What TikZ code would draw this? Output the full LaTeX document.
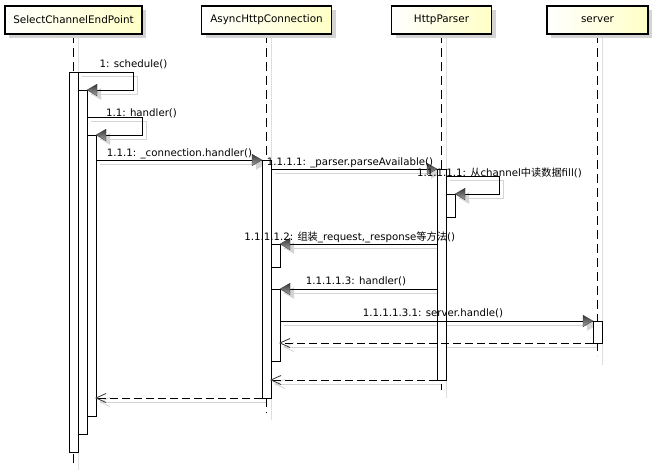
\documentclass[tikz,border=0pt]{standalone}
\usepackage{fontspec}
\setmainfont{DejaVu Sans}
\newfontfamily\cjk{Noto Sans CJK SC}
\usetikzlibrary{shadows}
\pgfdeclarelayer{bg}
\pgfsetlayers{bg,main}
\definecolor{shadowc}{RGB}{212,212,212}
\definecolor{lifesh}{RGB}{222,222,222}
\definecolor{headyel}{RGB}{255,255,198}
\definecolor{tipdark}{RGB}{55,55,55}
\definecolor{tiplight}{RGB}{165,165,165}
\begin{document}
\begin{tikzpicture}[x=1pt,y=-1pt,
  head/.style={draw=black,line width=1.5pt,left color=white,right color=headyel,
    minimum height=28pt,inner sep=0pt,outer sep=0pt,font=\fontsize{10.4}{12}\selectfont,
    drop shadow={shadow xshift=4pt,shadow yshift=-4pt,fill=shadowc,opacity=1}},
  actbar/.style={draw=black,fill=white,line width=0.8pt,minimum width=9pt,inner sep=0pt,outer sep=0pt,anchor=north},
  lifeline/.style={draw=black,line width=0.8pt,dash pattern=on 9pt off 5pt},
  lifeshadow/.style={draw=lifesh,line width=0.8pt},
  msg/.style={draw=black,line width=0.8pt},
  msgshadow/.style={draw=shadowc,line width=0.8pt},
  ret/.style={draw=black,line width=0.8pt,dash pattern=on 8pt off 4pt},
  lbl/.style={inner sep=0pt,text height=7.5pt,text depth=2pt,font=\fontsize{10.2}{12}\selectfont},
  tipL/.pic={\shade[top color=tipdark,bottom color=tiplight,draw=tipdark,line width=0.3pt] (0,0) -- (10,-5.8) -- (10,5.8) -- cycle;},
  tipR/.pic={\shade[top color=tipdark,bottom color=tiplight,draw=tipdark,line width=0.3pt] (0,0) -- (-10,-5.8) -- (-10,5.8) -- cycle;},
  tipLsh/.pic={\fill[shadowc] (4,4) -- (14,-1.8) -- (14,9.8) -- cycle;},
  tipRsh/.pic={\fill[shadowc] (4,4) -- (-6,-1.8) -- (-6,9.8) -- cycle;},
  openL/.pic={\draw[draw=tipdark,line width=0.8pt] (10,-4.5) -- (0,0) -- (10,4.5);},
  openLsh/.pic={\draw[draw=shadowc,line width=0.8pt] (14,-0.5) -- (4,4) -- (14,8.5);}
]
\useasboundingbox (0,0) rectangle (670,470);

% headers
\node[head,minimum width=137pt] (hS) at (73.5,20) {SelectChannelEndPoint};
\node[head,minimum width=130pt] (hA) at (266.5,20) {AsyncHttpConnection};
\node[head,minimum width=100pt] (hH) at (441.5,20) {HttpParser};
\node[head,minimum width=101pt] (hV) at (597.5,20) {server};

% activation bars
\node[actbar,minimum height=380pt] (s1) at (73.5,72) {};
\node[actbar,minimum height=344pt] (s2) at (82.5,90) {};
\node[actbar,minimum height=281pt] (s3) at (91.5,135) {};
\node[actbar,minimum height=238pt] (a1) at (266.5,160) {};
\node[actbar,minimum height=23pt] (a2) at (275.5,244) {};
\node[actbar,minimum height=72pt] (a3) at (275.5,289) {};
\node[actbar,minimum height=211pt] (p1) at (441.5,169) {};
\node[actbar,minimum height=23pt] (p2) at (450.5,194) {};
\node[actbar,minimum height=22pt] (v1) at (597.5,321) {};

% lifeline ends
\coordinate (eS) at (hS.south |- 0,466);
\coordinate (eA) at (hA.south |- 0,413);
\coordinate (eH) at (hH.south |- 0,390);
\coordinate (eV) at (hV.south |- 0,356);

% message end points
\coordinate (m1a) at (s1.north east);
\coordinate (m1e) at (s2.north east);
\coordinate (m2a) at (s2.east |- 0,117);
\coordinate (m2e) at (s3.north east);
\coordinate (m3a) at (s3.east |- 0,160);
\coordinate (m3e) at (a1.north west);
\coordinate (m4a) at (a1.east |- 0,169);
\coordinate (m4e) at (p1.north west);
\coordinate (m5a) at (p1.east |- 0,176);
\coordinate (m5e) at (p2.north east);
\coordinate (m6a) at (p1.west |- 0,244);
\coordinate (m6e) at (a2.north east);
\coordinate (m7a) at (p1.west |- 0,289);
\coordinate (m7e) at (a3.north east);
\coordinate (m8a) at (a3.east |- 0,321);
\coordinate (m8e) at (v1.north west);
\coordinate (r9a) at (v1.south west);
\coordinate (r9e) at (a3.east |- v1.south);
\coordinate (r10a) at (p1.south west);
\coordinate (r10e) at (a1.east |- p1.south);
\coordinate (r11a) at (a1.south west);
\coordinate (r11e) at (s3.east |- a1.south);

\begin{pgfonlayer}{bg}
  \fill[white] (-2,-2) rectangle (672,472);
  % lifeline shadows
  \draw[lifeshadow] ([shift={(5,0)}]hS.south) -- ([shift={(5,4)}]eS);
  \draw[lifeshadow] ([shift={(5,0)}]hA.south) -- ([shift={(5,7)}]eA);
  \draw[lifeshadow] ([shift={(5,0)}]hH.south) -- ([shift={(5,8)}]eH);
  \draw[lifeshadow] ([shift={(5,0)}]hV.south) -- ([shift={(5,9)}]eV);
  % lifelines
  \draw[lifeline] (hS.south) -- (eS);
  \draw[lifeline] (hA.south) -- (eA);
  \draw[lifeline] (hH.south) -- (eH);
  \draw[lifeline] (hV.south) -- (eV);
  % message shadows
  \draw[msgshadow] ([shift={(4,4)}]m1a) -- ++(55,0) |- ([shift={(4,4)}]m1e);
  \draw[msgshadow] ([shift={(4,4)}]m2a) -- ++(55,0) |- ([shift={(4,4)}]m2e);
  \draw[msgshadow] ([shift={(4,4)}]m3a) -- ([shift={(4,4)}]m3e);
  \draw[msgshadow] ([shift={(4,4)}]m4a) -- ([shift={(4,4)}]m4e);
  \draw[msgshadow] ([shift={(4,4)}]m5a) -- ++(53,0) |- ([shift={(4,4)}]m5e);
  \draw[msgshadow] ([shift={(4,4)}]m6a) -- ([shift={(4,4)}]m6e);
  \draw[msgshadow] ([shift={(4,4)}]m7a) -- ([shift={(4,4)}]m7e);
  \draw[msgshadow] ([shift={(4,4)}]m8a) -- ([shift={(4,4)}]m8e);
  \draw[msgshadow] ([shift={(4,4)}]r9a) -- ([shift={(4,4)}]r9e);
  \draw[msgshadow] ([shift={(4,4)}]r10a) -- ([shift={(4,4)}]r10e);
  \draw[msgshadow] ([shift={(4,4)}]r11a) -- ([shift={(4,4)}]r11e);
  \pic at (m1e) {tipLsh};
  \pic at (m2e) {tipLsh};
  \pic at (m3e) {tipRsh};
  \pic at (m4e) {tipRsh};
  \pic at (m5e) {tipLsh};
  \pic at (m6e) {tipLsh};
  \pic at (m7e) {tipLsh};
  \pic at (m8e) {tipRsh};
  \pic at (r9e) {openLsh};
  \pic at (r10e) {openLsh};
  \pic at (r11e) {openLsh};
\end{pgfonlayer}

% messages
\draw[msg] (m1a) -- ++(55,0) |- (m1e);
\draw[msg] (m2a) -- ++(55,0) |- (m2e);
\draw[msg] (m3a) -- (m3e);
\draw[msg] (m4a) -- (m4e);
\draw[msg] (m5a) -- ++(53,0) |- (m5e);
\draw[msg] (m6a) -- (m6e);
\draw[msg] (m7a) -- (m7e);
\draw[msg] (m8a) -- (m8e);
\draw[ret] (r9a) -- (r9e);
\draw[ret] (r10a) -- (r10e);
\draw[ret] (r11a) -- (r11e);
\pic at (m1e) {tipL};
\pic at (m2e) {tipL};
\pic at (m3e) {tipR};
\pic at (m4e) {tipR};
\pic at (m5e) {tipL};
\pic at (m6e) {tipL};
\pic at (m7e) {tipL};
\pic at (m8e) {tipR};
\pic at (r9e) {openL};
\pic at (r10e) {openL};
\pic at (r11e) {openL};

% labels
\node[lbl] (l1) at (133.5,64.5) {1: schedule()};
\node[lbl] (l2) at (141.5,113.5) {1.1: handler()};
\node[lbl] (l3) at (179.5,153.5) {1.1.1: \_connection.handler()};
\node[lbl] (l4) at (350,162.8) {1.1.1.1: \_parser.parseAvailable()};
\node[lbl] (l5) at (499.5,173.8) {1.1.1.1.1: {\cjk 从}channel{\cjk 中读数据}fill()};
\node[lbl] (l6) at (349.7,237.7) {1.1.1.1.2: {\cjk 组装}\_request,\_response{\cjk 等方法}()};
\node[lbl] (l7) at (356,281.7) {1.1.1.1.3: handler()};
\node[lbl] (l8) at (433,313.8) {1.1.1.1.3.1: server.handle()};
\end{tikzpicture}
\end{document}
